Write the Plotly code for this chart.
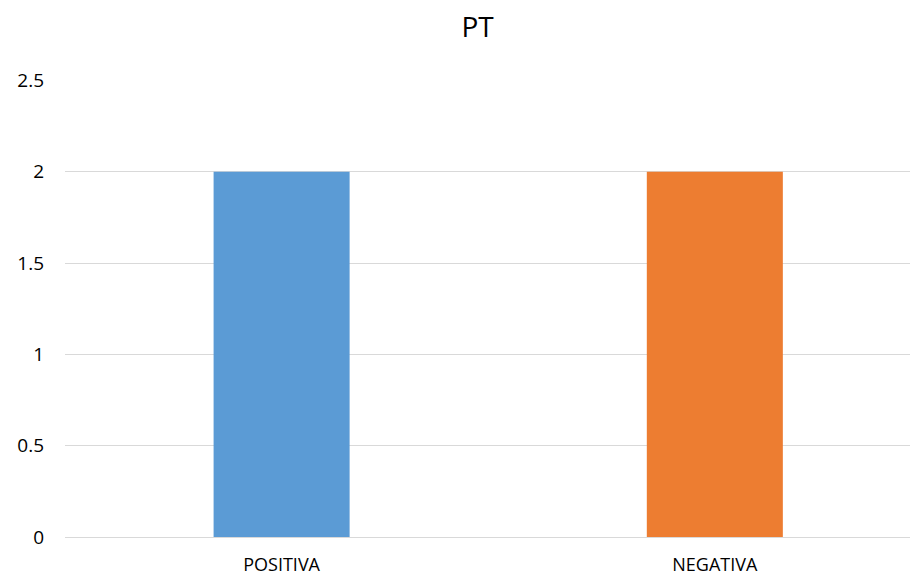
import plotly.graph_objects as go

categories = ["POSITIVA", "NEGATIVA"]
values = [2, 2]
colors = ["#5B9BD5", "#ED7D31"]
y_ticks = [0, 0.5, 1, 1.5, 2, 2.5]
y_tick_labels = ["0", "0.5", "1", "1.5", "2", "2.5"]

fig = go.Figure()
fig.add_trace(go.Bar(
    x=[0, 1], y=values, marker=dict(color=colors, line=dict(width=0)),
    width=0.314, hoverinfo="skip",
))

# The page body has an 8px default margin, so the figure is sized to fit.
fig.update_layout(
    width=910, height=568,
    margin=dict(l=57, r=0, t=72, b=39, autoexpand=False),
    paper_bgcolor="white", plot_bgcolor="white",
    font=dict(family="Open Sans, Liberation Sans, sans-serif", color="#000000", size=19),
    title=dict(text="PT", x=0.516, xanchor="center", y=0.966, yanchor="middle",
               font=dict(size=28, color="#000000")),
    showlegend=False,
    xaxis=dict(
        range=[-0.5, 1.469], tickmode="array", tickvals=[0, 1], ticktext=categories,
        showgrid=False, zeroline=False, showline=True, linecolor="#D9D9D9", linewidth=1,
        ticks="", tickfont=dict(size=18), automargin=False, ticklabelstandoff=11,
    ),
    yaxis=dict(
        range=[0, 2.502], tickmode="array", tickvals=y_ticks, ticktext=y_tick_labels,
        showgrid=True, gridcolor="#D9D9D9", gridwidth=1, zeroline=False, showline=False,
        ticks="", ticklabelstandoff=20, tickfont=dict(size=19), automargin=False,
    ),
)

fig.write_html("out.html")
